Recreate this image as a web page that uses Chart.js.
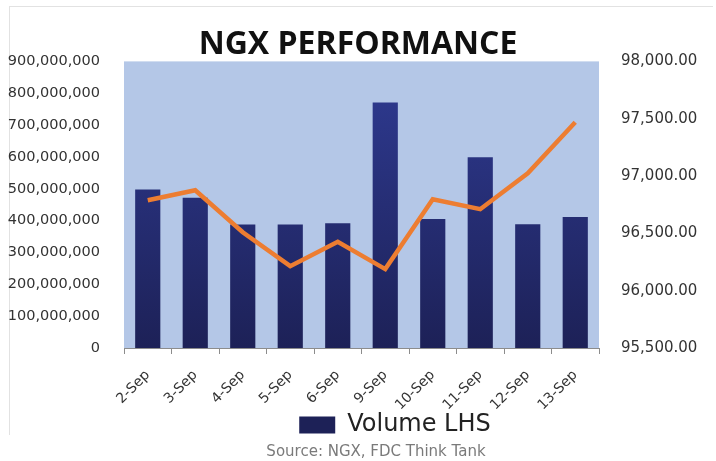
<!DOCTYPE html>
<html>
<head>
<meta charset="utf-8">
<script src="https://cdn.jsdelivr.net/npm/chart.js@4"></script>
<style>
  body { margin: 0; background: #fff; }
  #frame { position: absolute; left: 9px; top: 6px; width: 703px; height: 428px; border: 1px solid #e2e2e2; border-bottom: none; border-right: none; }
  #wrap { position: absolute; left: 0; top: 0; width: 716px; height: 447px; }
  #source { position: absolute; left: 0; width: 752px; top: 442px; text-align: center; font: 15px "DejaVu Sans", sans-serif; color: #7a7a7a; }
</style>
</head>
<body>
<div id="frame"></div>
<div id="wrap"><canvas id="myChart"></canvas></div>
<div id="source">Source: NGX, FDC Think Tank</div>
<script>
const labels = ['2-Sep', '3-Sep', '4-Sep', '5-Sep', '6-Sep', '9-Sep', '10-Sep', '11-Sep', '12-Sep', '13-Sep'];
const volume = [498000000, 472000000, 388000000, 388000000, 392000000, 771000000, 405000000, 599000000, 389000000, 411000000];
const asi = [96789, 96876, 96510, 96214, 96426, 96188, 96798, 96711, 97024, 97469];

const plotBg = {
    id: 'plotBg',
    beforeDraw(chart) {
        const a = chart.chartArea, ctx = chart.ctx;
        ctx.save();
        ctx.fillStyle = '#b4c7e7';
        ctx.fillRect(a.left, a.top, a.right - a.left, a.bottom - a.top);
        ctx.restore();
    }
};

// legend sits a bit right of centre in the original
const legendShift = {
    id: 'legendShift',
    afterLayout(chart) {
        chart.legend.left += 37;
        chart.legend.right += 37;
    }
};

function barFill(context) {
    const chart = context.chart;
    const a = chart.chartArea;
    if (!a) return '#27307a';
    const g = chart.ctx.createLinearGradient(0, a.top, 0, a.bottom);
    g.addColorStop(0, '#2f3b93');
    g.addColorStop(1, '#1d2157');
    return g;
}

const tickFont = { family: 'DejaVu Sans', size: 14 };

const ctx = document.getElementById('myChart').getContext('2d');
window.myChart = new Chart(ctx, {
    type: 'bar',
    data: {
        labels: labels,
        datasets: [{
            type: 'line',
            label: 'NGX ASI RHS',
            data: asi,
            yAxisID: 'y1',
            borderColor: '#ed7d31',
            borderWidth: 4.5,
            pointRadius: 0,
            tension: 0,
            fill: false,
            order: 0
        }, {
            label: 'Volume LHS',
            data: volume,
            yAxisID: 'y',
            backgroundColor: barFill,
            categoryPercentage: 0.53,
            barPercentage: 1,
            order: 1
        }]
    },
    options: {
        responsive: true,
        maintainAspectRatio: false,
        animation: false,
        plugins: {
            title: {
                display: true,
                text: 'NGX PERFORMANCE',
                color: '#111',
                font: { family: 'Open Sans', size: 32, weight: 'bold' },
                padding: { top: 26, bottom: -3 }
            },
            legend: {
                position: 'bottom',
                labels: {
                    filter: item => item.text === 'Volume LHS',
                    boxWidth: 36,
                    boxHeight: 17,
                    color: '#222',
                    font: { family: 'DejaVu Sans', size: 24 },
                    padding: 4
                }
            },
            tooltip: { enabled: false }
        },
        scales: {
            x: {
                offset: true,
                grid: { offset: true, drawOnChartArea: false, drawTicks: true, tickLength: 6, color: '#8c8c8c' },
                border: { color: '#8c8c8c' },
                ticks: { color: '#333', font: tickFont, minRotation: 45, maxRotation: 45, padding: 13 },
                afterFit(s) { s.height = 61; }
            },
            y: {
                position: 'left',
                min: 0,
                max: 900000000,
                grid: { display: false },
                border: { display: false },
                ticks: {
                    stepSize: 100000000,
                    color: '#333',
                    font: { family: 'DejaVu Sans', size: 14.5 },
                    padding: 16,
                    callback: v => v.toLocaleString('en-US')
                },
                afterFit(s) { s.width = 124; }
            },
            y1: {
                position: 'right',
                min: 95500,
                max: 98000,
                grid: { display: false },
                border: { display: false },
                ticks: {
                    stepSize: 500,
                    color: '#333',
                    font: { family: 'DejaVu Sans', size: 15 },
                    padding: 14,
                    callback: v => v.toLocaleString('en-US', { minimumFractionDigits: 2, maximumFractionDigits: 2 })
                },
                afterFit(s) { s.width = 117; }
            }
        }
    },
    plugins: [plotBg, legendShift]
});
</script>
</body>
</html>
